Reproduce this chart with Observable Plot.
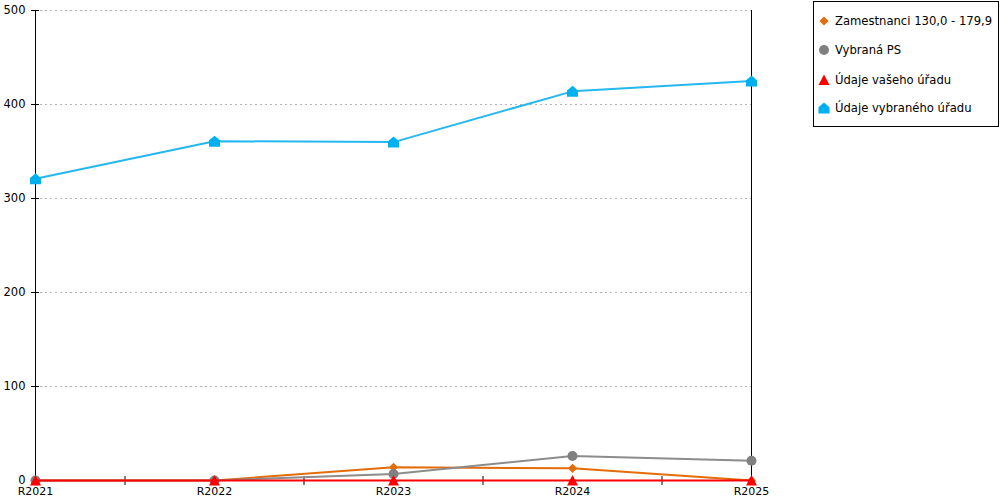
<!DOCTYPE html>
<html>
<head>
<meta charset="utf-8">
<script src="https://cdn.jsdelivr.net/npm/d3@7"></script>
<script src="https://cdn.jsdelivr.net/npm/@observablehq/plot@0.6"></script>
<style>
  body { margin: 0; background: #fff; font-family: "DejaVu Sans", sans-serif; }
  #wrap { position: relative; width: 1000px; height: 500px; }
  #legend { position: absolute; left: 813px; top: 1px; width: 186px; height: 126px;
            border: 1px solid #000; box-sizing: border-box; background: #fff; font-size: 11.6px; color: #000; }
  .item { position: absolute; left: 4px; height: 14px; display: flex; align-items: center; white-space: nowrap; }
  .item svg { margin-right: 5px; }
</style>
</head>
<body>
<div id="wrap"><div id="chart"></div><div id="legend"></div></div>
<script>
const years = [2021, 2022, 2023, 2024, 2025];
const seriesNames = ["Zamestnanci 130,0 - 179,9", "Vybraná PS", "Údaje vašeho úřadu", "Údaje vybraného úřadu"];
const zamestnanci = [0, 0, 14, 13, 0];
const vybranaPS = [0, 0, 7, 26, 21];
const vasUrad = [0, 0, 0, 0, 0];
const vybranyUrad = [321, 361, 360, 414, 425];
const yTicks = [0, 100, 200, 300, 400, 500];

const lineColors = ["#e46c0a", "#8c8c8c", "#ff0000", "#25b7ef"];
const markColors = ["#e46c0a", "#808080", "#ff0000", "#00b0f0"];

const rOf = size => Math.sqrt(size / Math.PI);
const diamond = { draw(c, size) { const r = rOf(size); c.moveTo(0, -r); c.lineTo(r, 0); c.lineTo(0, r); c.lineTo(-r, 0); c.closePath(); } };
const circle = { draw(c, size) { const r = rOf(size); c.moveTo(r, 0); c.arc(0, 0, r, 0, 2 * Math.PI); c.closePath(); } };
const triangle = { draw(c, size) { const r = rOf(size); c.moveTo(0, -r); c.lineTo(r, r * 0.9); c.lineTo(-r, r * 0.9); c.closePath(); } };
const house = { draw(c, size) { const r = rOf(size); c.moveTo(0, -r); c.lineTo(r, -r * 0.15); c.lineTo(r, r); c.lineTo(-r, r); c.lineTo(-r, -r * 0.15); c.closePath(); } };
const symbols = [diamond, circle, triangle, house];
const sizes = [4.6, 5, 5.5, 5.5];

const allValues = [zamestnanci, vybranaPS, vasUrad, vybranyUrad];
const series = allValues.map((vals, i) => years.map((yr, j) => ({ year: yr, value: vals[j], s: i })));
const mids = years.slice(0, -1).map(y => y + 0.5);

const marks = [
  Plot.gridY(yTicks.filter(d => d > 0), { stroke: "#b4b4b4", strokeOpacity: 1, strokeDasharray: "2,3" }),
  Plot.ruleX([years[0], years[years.length - 1]], { stroke: "#000" }),
  Plot.ruleY([0], { stroke: "#000" }),
  Plot.axisY(yTicks, { tickSize: 8, dx: 4, tickFormat: () => "", label: null }),
  Plot.axisY(yTicks, { tickSize: 0, tickPadding: 10, label: null, fill: "#000", fontSize: 11.5 }),
  Plot.axisX(mids, { tickSize: 9, dy: -4, tickFormat: () => "", label: null }),
  Plot.axisX(years, { tickSize: 0, tickPadding: 7, tickFormat: d => "R" + d, label: null, fill: "#000", fontSize: 11 })
];
series.forEach((data, i) => {
  marks.push(Plot.line(data, { x: "year", y: "value", stroke: lineColors[i], strokeWidth: 2 }));
  marks.push(Plot.dot(data, { x: "year", y: "value", fill: markColors[i], stroke: "none", r: sizes[i], symbol: () => symbols[i] }));
});

const chart = Plot.plot({
  width: 1000, height: 500,
  marginLeft: 35, marginRight: 249, marginTop: 10, marginBottom: 20,
  x: { domain: [years[0], years[years.length - 1]] },
  y: { domain: [0, 500] },
  symbol: { type: "identity" },
  style: { fontFamily: "DejaVu Sans", fontSize: "11px", color: "#000", background: "#fff", overflow: "visible" },
  marks
});
document.getElementById("chart").appendChild(chart);

const legend = document.getElementById("legend");
const tops = [12, 41, 71, 99];
seriesNames.forEach((name, i) => {
  const item = document.createElement("div");
  item.className = "item";
  item.style.top = tops[i] + "px";
  const sym = d3.symbol(symbols[i], sizes[i] * sizes[i] * Math.PI)();
  item.innerHTML = `<svg width="12" height="12" viewBox="-6 -6 12 12"><path d="${sym}" fill="${markColors[i]}"/></svg>`;
  const span = document.createElement("span");
  span.textContent = name;
  item.appendChild(span);
  legend.appendChild(item);
});
</script>
</body>
</html>
